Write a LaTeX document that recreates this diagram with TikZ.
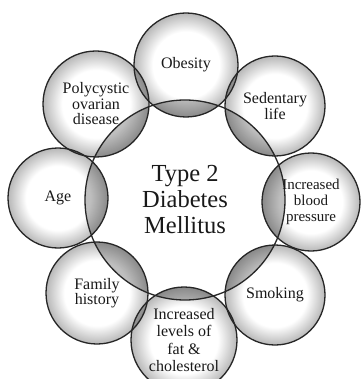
\documentclass[tikz,border=0pt]{standalone}
\usepackage{fontspec}
\setmainfont{Liberation Serif}
\pgfdeclarelayer{back}
\pgfdeclarelayer{lens}
\pgfsetlayers{back,lens,main}
\pgfdeclareradialshading{ring}{\pgfpoint{0bp}{0bp}}{color(0bp)=(white); color(16bp)=(white); color(25bp)=(black!28); color(50bp)=(black!28)}
\tikzset{
  factor/.style={circle, draw=black!85, line width=1.3pt, inner sep=0pt, align=center, text=black!90, font=\fontsize{16}{15.5}\selectfont},
  core/.style={circle, draw=black!85, line width=1.3pt, minimum size=200pt, inner sep=0pt, align=center, text=black!90, font=\fontsize{24.5}{26}\selectfont},
  lens/.style={fill=black, fill opacity=0.25}
}
\begin{document}
\begin{tikzpicture}[x=1pt, y=-1pt]
\useasboundingbox (0,0) rectangle (360,379);
\node[core] (dm) at (185,200) {Type 2\\Diabetes\\Mellitus};
\node[factor, minimum size=104pt] (obesity) at (186,65) {Obesity};
\node[factor, minimum size=100pt] (sedentary) at (275,106) {Sedentary\\life};
\node[factor, minimum size=98pt, font=\fontsize{15}{16}\selectfont] (pressure) at (311,202) {Increased\\blood\\pressure};
\node[factor, minimum size=100pt] (smoking) at (275,295) {Smoking};
\node[factor, minimum size=106pt, font=\fontsize{16}{17.5}\selectfont] (lipids) at (184,340) {Increased\\levels of\\fat \&\\cholesterol};
\node[factor, minimum size=102pt] (family) at (97,293) {Family\\history};
\node[factor, minimum size=100pt] (age) at (58,198) {Age};
\node[factor, minimum size=106pt] (pcod) at (96,104) {Polycystic\\ovarian\\disease};
\begin{pgfonlayer}{back}
\foreach \n/\r in {obesity/52, sedentary/50, pressure/49, smoking/50, lipids/53, family/51, age/50, pcod/53}
  \shade[shading=ring] (\n.center) circle[radius=\r pt];
\end{pgfonlayer}
\begin{pgfonlayer}{lens}
\foreach \n/\r in {obesity/52, sedentary/50, pressure/49, smoking/50, lipids/53, family/51, age/50, pcod/53}{
  \begin{scope}
    \clip (dm.center) circle[radius=100pt];
    \fill[lens] (\n.center) circle[radius=\r pt];
  \end{scope}
}
\foreach \a/\ra/\b/\rb in {obesity/52/sedentary/50, sedentary/50/pressure/49, pressure/49/smoking/50, smoking/50/lipids/53, lipids/53/family/51, family/51/age/50, age/50/pcod/53, pcod/53/obesity/52}{
  \begin{scope}
    \clip (\a.center) circle[radius=\ra pt];
    \fill[lens] (\b.center) circle[radius=\rb pt];
  \end{scope}
}
\end{pgfonlayer}
\end{tikzpicture}
\end{document}
